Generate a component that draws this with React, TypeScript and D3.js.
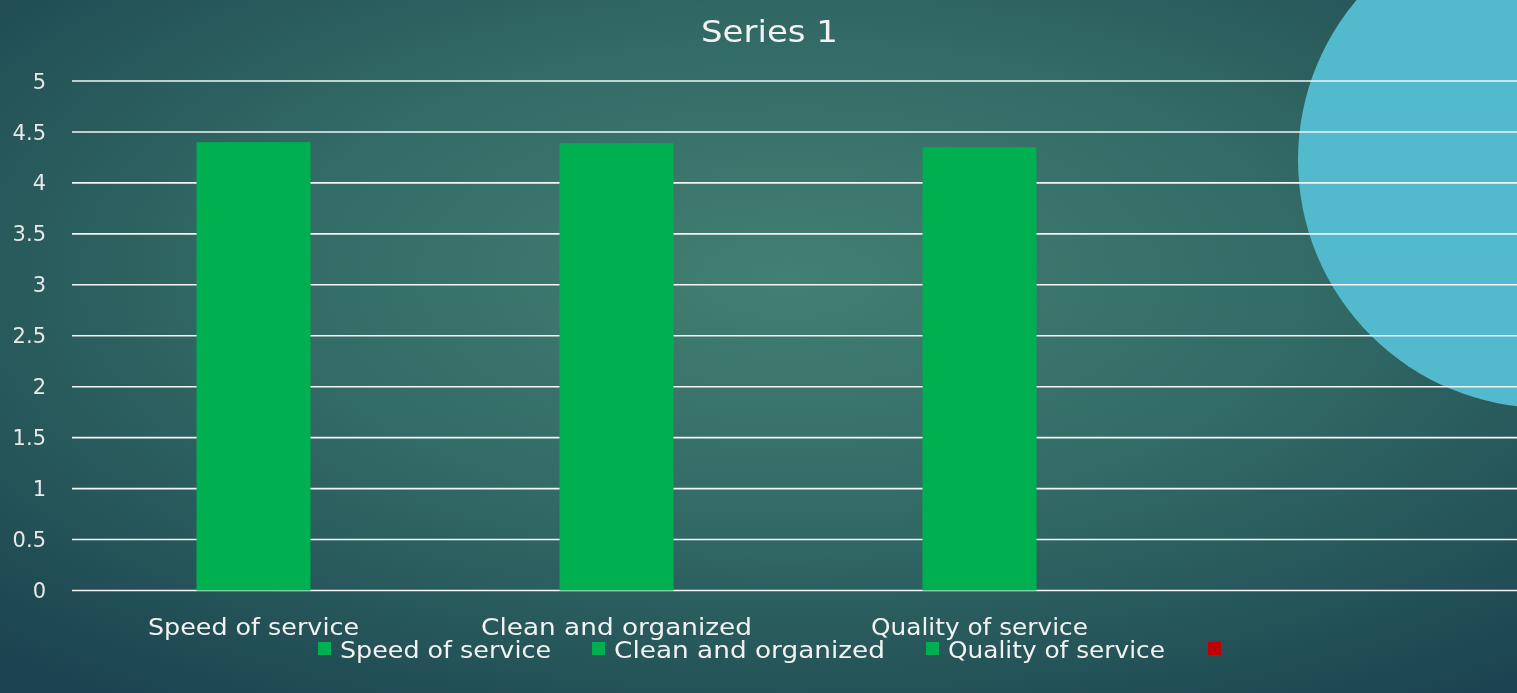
import React from "react";
import * as d3 from "d3";

const title = "Series 1";
const categories = ["Speed of service", "Clean and organized", "Quality of service", ""];
const values: (number | null)[] = [4.4, 4.39, 4.35, null];
const pointColors = ["#00b050", "#00b050", "#00b050", "#c00000"];
const yTicks = [0, 0.5, 1, 1.5, 2, 2.5, 3, 3.5, 4, 4.5, 5];
const tickLabels = ["0", "0.5", "1", "1.5", "2", "2.5", "3", "3.5", "4", "4.5", "5"];

const W = 1517;
const H = 693;
const FONT = "'Century Gothic', 'DejaVu Sans', Lato, sans-serif";
const catLabelWidths = [211, 271, 217];
const legendTextWidths = [211, 271, 217, 0];

export default function App() {
  const x = d3.scaleBand<string>().domain(categories.map((c, i) => String(i))).range([72, 1524]).padding(0);
  const y = d3.scaleLinear().domain([0, 5]).range([590.5, 81]);
  const barW = 114;

  const legendXs = [318, 592, 926, 1208];

  return (
    <div style={{ position: "fixed", left: 0, top: 0, width: W, height: H }}>
      <svg width={W} height={H} style={{ display: "block" }}>
        <defs>
          <radialGradient id="bg" cx="52%" cy="40%" r="75%" fx="52%" fy="40%">
            <stop offset="0%" stopColor="#437f72" />
            <stop offset="45%" stopColor="#336b66" />
            <stop offset="100%" stopColor="#1b4450" />
          </radialGradient>
        </defs>
        <rect x={0} y={0} width={W} height={H} fill="url(#bg)" />
        <circle cx={1546} cy={160} r={248} fill="#53b9cc" />

        <text x={769.5} y={42} textAnchor="middle" fill="#f2f2f2" fontFamily={FONT} fontSize={31}
          textLength={137} lengthAdjust="spacingAndGlyphs">
          {title}
        </text>

        {yTicks.map((t, i) => (
          <g key={t}>
            <line x1={72} x2={W} y1={y(t)} y2={y(t)} stroke="#f4f4f4" strokeWidth={1.6} />
            <text x={46} y={y(t)} dy="0.36em" textAnchor="end" fill="#e8e8e8" fontFamily={FONT} fontSize={21}>
              {tickLabels[i]}
            </text>
          </g>
        ))}

        {values.map((v, i) =>
          v == null ? null : (
            <rect
              key={i}
              x={(x(String(i)) as number) + x.bandwidth() / 2 - barW / 2}
              y={y(v)}
              width={barW}
              height={y(0) - y(v)}
              fill={pointColors[i]}
            />
          )
        )}

        {categories.map((c, i) =>
          c ? (
            <text
              key={c}
              x={(x(String(i)) as number) + x.bandwidth() / 2}
              y={635}
              textAnchor="middle"
              fill="#f2f2f2"
              fontFamily={FONT}
              fontSize={23}
              textLength={catLabelWidths[i]}
              lengthAdjust="spacingAndGlyphs"
            >
              {c}
            </text>
          ) : null
        )}

        {categories.map((c, i) => (
          <g key={"lg" + i}>
            <rect x={legendXs[i]} y={642} width={13} height={13} fill={pointColors[i]} />
            {c ? (
              <text
                x={legendXs[i] + 22}
                y={658}
                fill="#f2f2f2"
                fontFamily={FONT}
                fontSize={23}
                textLength={legendTextWidths[i]}
                lengthAdjust="spacingAndGlyphs"
              >
                {c}
              </text>
            ) : null}
          </g>
        ))}
      </svg>
    </div>
  );
}
